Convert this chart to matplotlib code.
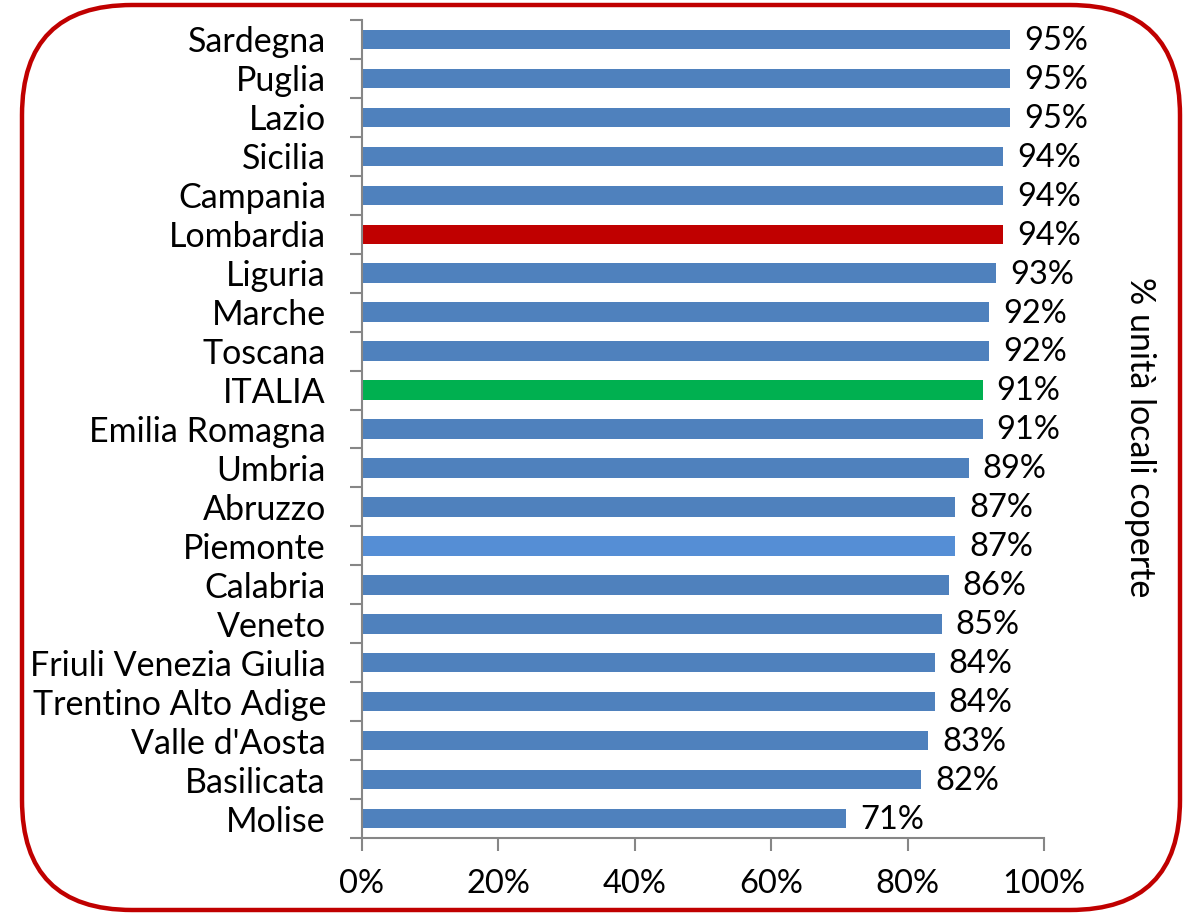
import matplotlib
matplotlib.use("Agg")
import matplotlib.pyplot as plt
from matplotlib.patches import FancyBboxPatch
from matplotlib.ticker import FixedLocator, PercentFormatter

regions = ["Sardegna", "Puglia", "Lazio", "Sicilia", "Campania", "Lombardia",
           "Liguria", "Marche", "Toscana", "ITALIA", "Emilia Romagna", "Umbria",
           "Abruzzo", "Piemonte", "Calabria", "Veneto", "Friuli Venezia Giulia",
           "Trentino Alto Adige", "Valle d'Aosta", "Basilicata", "Molise"]
values = [95, 95, 95, 94, 94, 94, 93, 92, 92, 91, 91, 89, 87, 87, 86, 85, 84, 84, 83, 82, 71]
special_colors = {"Lombardia": "#C00000", "ITALIA": "#00B050", "Piemonte": "#558ED5"}
base_color = "#4F81BD"
xlabel_right = "% unità locali coperte"

plt.rcParams['font.family'] = ['Lato', 'DejaVu Sans']

fig = plt.figure(figsize=(11.89, 9.15), dpi=100)
ax = fig.add_axes([362/1189, 1-838/915, 682/1189, 818/915])

n = len(regions)
ypos = list(range(n))[::-1]
colors = [special_colors.get(r, base_color) for r in regions]
ax.barh(ypos, values, height=0.5, color=colors, zorder=2)
for y, v in zip(ypos, values):
    ax.annotate(f"{v}%", (v, y), xytext=(10, -1), textcoords="offset points",
                va="center", ha="left", fontsize=23.5)

ax.set_xlim(0, 100)
ax.set_ylim(-0.5, n - 0.5)
ax.set_xticks([0, 20, 40, 60, 80, 100])
ax.xaxis.set_major_formatter(PercentFormatter(decimals=0))
ax.set_yticks(ypos)
ax.set_yticklabels(regions)
ax.yaxis.set_minor_locator(FixedLocator([i - 0.5 for i in range(n + 1)]))
ax.tick_params(axis='y', which='major', length=0, pad=26, labelsize=24.5)
ax.tick_params(axis='y', which='minor', length=9, width=1.5, color='#868686', direction='out')
ax.tick_params(axis='x', which='major', length=9, width=1.5, color='#868686', direction='out', pad=13, labelsize=23.5)

for s in ['top', 'right']:
    ax.spines[s].set_visible(False)
for s in ['left', 'bottom']:
    ax.spines[s].set_color('#868686')
    ax.spines[s].set_linewidth(1.5)

fig.text(1140/1189, 1-437/915, xlabel_right, rotation=270, ha='center', va='center', fontsize=24.5)

box = FancyBboxPatch((0.22, 0.05), 11.58, 9.05, boxstyle="round,pad=0,rounding_size=1.1",
                     transform=fig.dpi_scale_trans, facecolor='none', edgecolor='#C00000',
                     linewidth=3.2, zorder=10)
fig.patches.append(box)

fig.savefig("out.png", dpi=100)
